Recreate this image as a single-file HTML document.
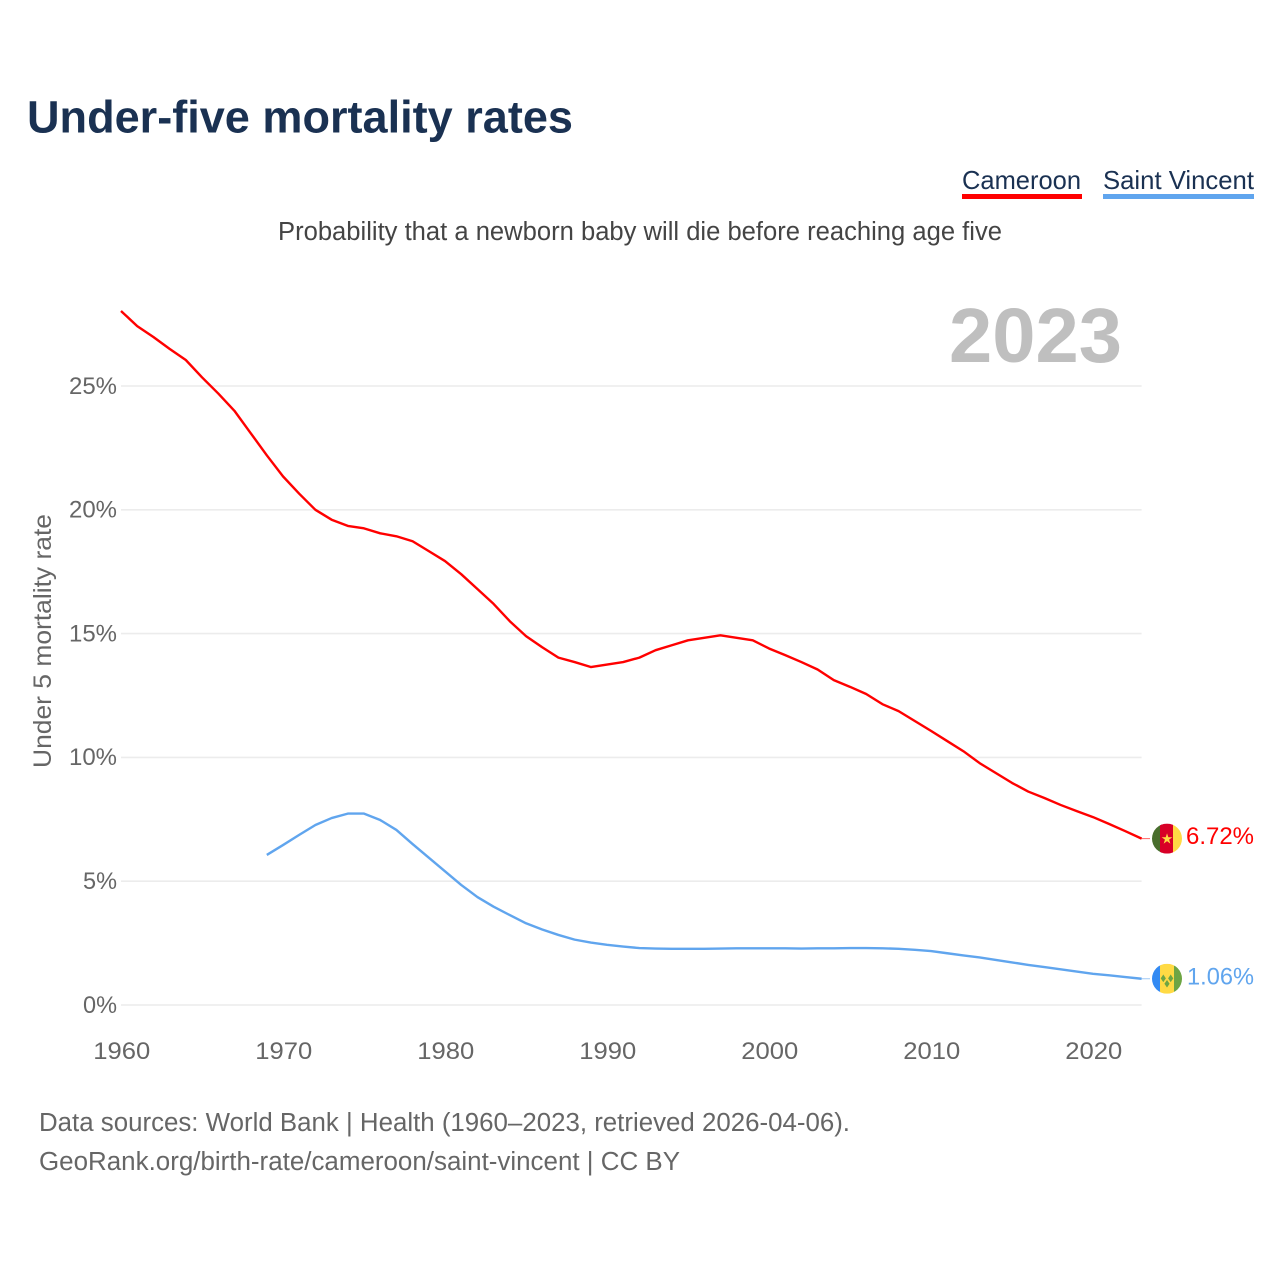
<!DOCTYPE html>
<html lang="en">
<head>
<meta charset="utf-8">
<title>Under-five mortality rates</title>
<style>
html,body{margin:0;padding:0;background:#fff;}
svg{display:block;font-family:"Liberation Sans",sans-serif;}
</style>
</head>
<body>
<svg id="chart" xmlns="http://www.w3.org/2000/svg" width="1280" height="1280" viewBox="0 0 1280 1280">
  <rect width="1280" height="1280" fill="#fff"/>
  <text x="27" y="132.5" font-size="45" font-weight="700" fill="#1a3152" textLength="546" lengthAdjust="spacingAndGlyphs">Under-five mortality rates</text>

  <g>
    <text x="962" y="189" font-size="26" fill="#1a3152" textLength="119" lengthAdjust="spacingAndGlyphs">Cameroon</text>
    <rect x="962" y="194" width="120" height="5" fill="#ff0000"/>
  </g>
  <g>
    <text x="1103" y="189" font-size="26" fill="#1a3152" textLength="151" lengthAdjust="spacingAndGlyphs">Saint Vincent</text>
    <rect x="1103" y="194" width="151" height="5" fill="#60a5ee"/>
  </g>

  <text x="278" y="240" font-size="25.5" fill="#444" textLength="724" lengthAdjust="spacingAndGlyphs">Probability that a newborn baby will die before reaching age five</text>

  <g id="grid"></g>
  <g id="yticks"></g>
  <g id="xticks"></g>

  <text x="949" y="362" font-size="77" font-weight="700" fill="#bfbfbf" textLength="173" lengthAdjust="spacingAndGlyphs">2023</text>

  <text transform="translate(51,768) rotate(-90)" font-size="25" fill="#666" textLength="254" lengthAdjust="spacingAndGlyphs">Under 5 mortality rate</text>

  <g id="series"></g>

  <defs>
    <clipPath id="clip-a"><circle cx="1167" cy="0" r="15"/></clipPath>
  </defs>

  <g id="flag-cameroon">
    <g clip-path="url(#clip-a)">
      <rect x="1152" y="-15" width="10" height="30" fill="#496e2d"/>
      <rect x="1160" y="-15" width="13" height="30" fill="#d80027"/>
      <rect x="1173" y="-15" width="10" height="30" fill="#ffda44"/>
    </g>
    <text x="1167" y="5" font-size="14" text-anchor="middle" fill="#ffda44" style="font-family:'DejaVu Sans',sans-serif">★</text>
  </g>
  <g id="flag-vincent">
    <g clip-path="url(#clip-a)">
      <rect x="1152" y="-15" width="9" height="30" fill="#338af3"/>
      <rect x="1160" y="-15" width="14" height="30" fill="#ffda44"/>
      <rect x="1174" y="-15" width="9" height="30" fill="#6da544"/>
    </g>
    <path d="M1163.3 -4.2l2.6 3.8-2.6 3.8-2.6-3.8zM1170.7 -4.2l2.6 3.8-2.6 3.8-2.6-3.8zM1167 1.2l2.6 3.8-2.6 3.8-2.6-3.8z" fill="#6da544"/>
  </g>

  <text id="label-cameroon" x="1186" y="845" font-size="24.5" fill="#ff0000" textLength="68" lengthAdjust="spacingAndGlyphs"></text>
  <text id="label-vincent" x="1187" y="985" font-size="24.5" fill="#60a5ee" textLength="67" lengthAdjust="spacingAndGlyphs"></text>

  <text x="39" y="1131" font-size="25.5" fill="#666" textLength="811" lengthAdjust="spacingAndGlyphs">Data sources: World Bank | Health (1960–2023, retrieved 2026-04-06).</text>
  <text x="39" y="1170" font-size="25.5" fill="#666" textLength="641" lengthAdjust="spacingAndGlyphs">GeoRank.org/birth-rate/cameroon/saint-vincent | CC BY</text>
</svg>

<script>
const startYear = 1960;
const vincentStartYear = 1969;
const yTickValues = [0, 5, 10, 15, 20, 25];
const xTickYears = [1960, 1970, 1980, 1990, 2000, 2010, 2020];
const cameroonValues = [
  28.03, 27.42, 26.98, 26.5, 26.05, 25.35, 24.7, 24.0, 23.1, 22.2,
  21.35, 20.65, 20.0, 19.6, 19.35, 19.25, 19.05, 18.93, 18.73, 18.33,
  17.93, 17.4, 16.8, 16.2, 15.5, 14.9, 14.45, 14.03, 13.85, 13.65,
  13.75, 13.85, 14.03, 14.33, 14.53, 14.73, 14.83, 14.93, 14.83, 14.73,
  14.4, 14.13, 13.85, 13.55, 13.12, 12.85, 12.56, 12.15, 11.87, 11.47,
  11.07, 10.66, 10.25, 9.77, 9.37, 8.97, 8.62, 8.36, 8.08, 7.83,
  7.59, 7.31, 7.02, 6.72
];
const vincentValues = [
  6.06, 6.46, 6.87, 7.27, 7.55, 7.73, 7.73, 7.47, 7.07, 6.5,
  5.95, 5.4, 4.85, 4.36, 3.97, 3.63, 3.3, 3.05, 2.83, 2.64,
  2.52, 2.43, 2.36, 2.3, 2.28, 2.27, 2.27, 2.27, 2.28, 2.29,
  2.29, 2.29, 2.29, 2.28, 2.29, 2.29, 2.3, 2.3, 2.29, 2.27,
  2.23, 2.18, 2.09, 2.0, 1.92, 1.82, 1.72, 1.62, 1.53, 1.44,
  1.35, 1.26, 1.2, 1.13, 1.06
];
const cameroonLabel = "6.72%";
const vincentLabel = "1.06%";

const NS = "http://www.w3.org/2000/svg";
const plotLeft = 121, plotRight = 1141.6, pxPerYear = 16.2;
const yZero = 1005, pxPerUnit = 24.76;
function xScale(year) { return plotLeft + (year - startYear) * pxPerYear; }
function yScale(value) { return yZero - value * pxPerUnit; }
function make(tag, attrs, text) {
  const el = document.createElementNS(NS, tag);
  for (const k in attrs) el.setAttribute(k, attrs[k]);
  if (text !== undefined) el.textContent = text;
  return el;
}

const grid = document.getElementById("grid");
const yticks = document.getElementById("yticks");
const xticks = document.getElementById("xticks");
const seriesGroup = document.getElementById("series");

yTickValues.forEach(function (v) {
  const line = make("line", { x1: plotLeft, x2: plotRight, y1: yScale(v), y2: yScale(v), stroke: "#ececec", "stroke-width": 1.6 });
  
  
  grid.appendChild(line);
  const label = v + "%";
  const t = make("text", {
    x: 117, y: yScale(v) + 7.8, "text-anchor": "end", "font-size": 24, fill: "#666",
    textLength: label.length === 2 ? 34 : 48, lengthAdjust: "spacingAndGlyphs"
  }, label);
  
  
  yticks.appendChild(t);
});

xTickYears.forEach(function (yr) {
  const t = make("text", {
    x: xScale(yr) + 0.8, y: 1059, "text-anchor": "middle", "font-size": 24.5, fill: "#666",
    textLength: 57, lengthAdjust: "spacingAndGlyphs"
  }, String(yr));
  
  
  xticks.appendChild(t);
});

function seriesPath(values, firstYear) {
  return values.map(function (v, i) {
    return (i ? "L" : "M") + xScale(firstYear + i).toFixed(2) + " " + yScale(v).toFixed(2);
  }).join("");
}
function lastPoint(values) { return yScale(values[values.length - 1]); }

const cameroonLine = make("path", { d: seriesPath(cameroonValues, startYear), fill: "none", stroke: "#ff0000", "stroke-width": 2.4, "stroke-linejoin": "round" });


seriesGroup.appendChild(cameroonLine);

const vincentLine = make("path", { d: seriesPath(vincentValues, vincentStartYear), fill: "none", stroke: "#60a5ee", "stroke-width": 2.4, "stroke-linejoin": "round" });


seriesGroup.appendChild(vincentLine);

const cameroonLeader = make("line", { x1: plotRight, x2: 1150, y1: lastPoint(cameroonValues), y2: lastPoint(cameroonValues), stroke: "#ff0000", "stroke-width": 1, opacity: 0.6 });


seriesGroup.appendChild(cameroonLeader);

const vincentLeader = make("line", { x1: plotRight, x2: 1150, y1: lastPoint(vincentValues), y2: lastPoint(vincentValues), stroke: "#60a5ee", "stroke-width": 1, opacity: 0.6 });


seriesGroup.appendChild(vincentLeader);

document.getElementById("flag-cameroon").setAttribute("transform", "translate(0," + lastPoint(cameroonValues).toFixed(2) + ")");
document.getElementById("flag-vincent").setAttribute("transform", "translate(0," + lastPoint(vincentValues).toFixed(2) + ")");
const labelCameroon = document.getElementById("label-cameroon");
labelCameroon.textContent = cameroonLabel;
labelCameroon.setAttribute("y", (lastPoint(cameroonValues) + 5.5).toFixed(2));
const labelVincent = document.getElementById("label-vincent");
labelVincent.textContent = vincentLabel;
labelVincent.setAttribute("y", (lastPoint(vincentValues) + 5.5).toFixed(2));
</script>
</body>
</html>
